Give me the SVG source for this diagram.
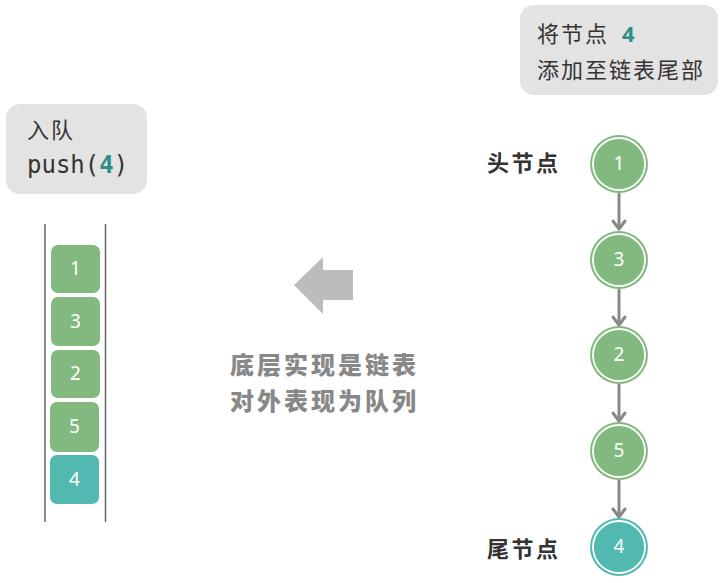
<svg xmlns="http://www.w3.org/2000/svg" width="725" height="583" viewBox="0 0 725 583">
  <defs>
    <style>
      .bg { fill: #ffffff; }
      .note { fill: #e3e3e3; }
      .txt { font-family: "Noto Sans CJK SC", "Noto Sans", sans-serif; font-size: 22px; fill: #333333; letter-spacing: 2px; }
      .mono { font-family: "DejaVu Sans Mono", "Liberation Mono", monospace; font-size: 24px; fill: #333333; }
      .hl { fill: #2e8f84; font-weight: bold; }
      .lbl { font-family: "Noto Sans CJK SC", "Noto Sans", sans-serif; font-size: 22px; font-weight: bold; fill: #333333; letter-spacing: 2.5px; }
      .mid { font-family: "Noto Sans CJK SC", "Noto Sans", sans-serif; font-size: 24px; font-weight: 900; fill: #888888; letter-spacing: 3px; }
      .wall { stroke: #666666; stroke-width: 1.5; }
      .cell { fill: #82b97f; }
      .cell-new { fill: #52b9b1; }
      .num { font-family: "Noto Sans", "DejaVu Sans", sans-serif; font-size: 19px; fill: #ffffff; text-anchor: middle; }
      .ring { fill: none; stroke: #ffffff; stroke-width: 1.8; }
      .edge { stroke: #888888; stroke-width: 3; fill: none; }
      .head { stroke: #888888; stroke-width: 3; fill: none; stroke-linecap: round; stroke-linejoin: round; }
    </style>
  </defs>

  <rect class="bg" x="0" y="0" width="725" height="583"/>

  <!-- enqueue note -->
  <g id="note-push">
    <rect class="note" x="6" y="104" width="141" height="90" rx="14"/>
    <text class="txt" x="27" y="138">入队</text>
    <text class="mono" x="27" y="173">push(<tspan class="hl">4</tspan>)</text>
  </g>

  <!-- queue view -->
  <g id="queue">
    <line class="wall" x1="45" y1="224" x2="45" y2="522"/>
    <line class="wall" x1="105.5" y1="224" x2="105.5" y2="522"/>
    <g id="q1"><rect class="cell" x="51" y="245" width="49" height="48" rx="7"/><text class="num" x="75.5" y="275">1</text></g>
    <g id="q3"><rect class="cell" x="51" y="297" width="49" height="49" rx="7"/><text class="num" x="75.5" y="328">3</text></g>
    <g id="q2"><rect class="cell" x="51" y="350" width="49" height="48" rx="7"/><text class="num" x="75.5" y="380">2</text></g>
    <g id="q5"><rect class="cell" x="50" y="402" width="49" height="50" rx="7"/><text class="num" x="74.5" y="433">5</text></g>
    <g id="q4"><rect class="cell-new" x="50" y="455" width="49" height="49" rx="7"/><text class="num" x="74.5" y="486">4</text></g>
  </g>

  <!-- big arrow and caption -->
  <g id="direction">
    <polygon points="294,285 323,257 323,270 353,270 353,300 323,300 323,314" fill="#bcbcbc"/>
    <text class="mid" x="230" y="374">底层实现是链表</text>
    <text class="mid" x="230" y="410">对外表现为队列</text>
  </g>

  <!-- add note -->
  <g id="note-add">
    <rect class="note" x="520" y="5" width="198" height="90" rx="14"/>
    <text class="txt" x="537" y="42">将节点 <tspan class="hl" font-family="Noto Sans, sans-serif" dx="6">4</tspan></text>
    <text class="txt" x="537" y="78">添加至链表尾部</text>
  </g>

  <text class="lbl" x="487" y="171">头节点</text>
  <text class="lbl" x="487" y="557">尾节点</text>

  <!-- linked list connectors -->
  <g id="connectors">
    <line class="edge" x1="619" y1="193" x2="619" y2="229"/>
    <polyline class="head" points="613,221 619,229 625,221"/>
    <line class="edge" x1="619" y1="289" x2="619" y2="325"/>
    <polyline class="head" points="613,317 619,325 625,317"/>
    <line class="edge" x1="619" y1="384" x2="619" y2="421"/>
    <polyline class="head" points="613,413 619,421 625,413"/>
    <line class="edge" x1="619" y1="480" x2="619" y2="517"/>
    <polyline class="head" points="613,509 619,517 625,509"/>
  </g>

  <!-- linked list nodes -->
  <g id="n1"><circle cx="619" cy="164" r="29" fill="#82b97f"/><circle class="ring" cx="619" cy="164" r="26"/><text class="num" x="619" y="170">1</text></g>
  <g id="n3"><circle cx="619" cy="260" r="29" fill="#82b97f"/><circle class="ring" cx="619" cy="260" r="26"/><text class="num" x="619" y="266">3</text></g>
  <g id="n2"><circle cx="619" cy="355" r="29" fill="#82b97f"/><circle class="ring" cx="619" cy="355" r="26"/><text class="num" x="619" y="361">2</text></g>
  <g id="n5"><circle cx="619" cy="451" r="29" fill="#82b97f"/><circle class="ring" cx="619" cy="451" r="26"/><text class="num" x="619" y="457">5</text></g>
  <g id="n4"><circle cx="619" cy="547" r="29" fill="#52b9b1"/><circle class="ring" cx="619" cy="547" r="26"/><text class="num" x="619" y="553">4</text></g>
</svg>
